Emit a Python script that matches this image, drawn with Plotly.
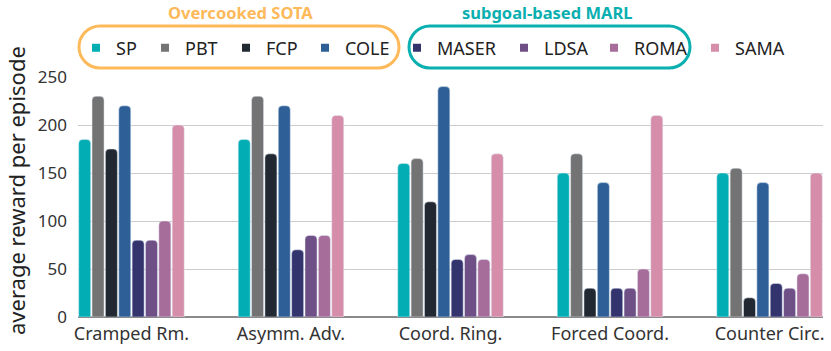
import plotly.graph_objects as go

categories = ['Cramped Rm.', 'Asymm. Adv.', 'Coord. Ring.', 'Forced Coord.', 'Counter Circ.']
methods = ['SP', 'PBT', 'FCP', 'COLE', 'MASER', 'LDSA', 'ROMA', 'SAMA']

sp = [185, 185, 160, 150, 150]
pbt = [230, 230, 165, 170, 155]
fcp = [175, 170, 120, 30, 20]
cole = [220, 220, 240, 140, 140]
maser = [80, 70, 60, 30, 35]
ldsa = [80, 85, 65, 30, 30]
roma = [100, 85, 60, 50, 45]
sama = [200, 210, 170, 210, 150]

values = [sp, pbt, fcp, cole, maser, ldsa, roma, sama]
colors = ['#02aeb4', '#737373', '#222831', '#2e5f97', '#33346d', '#6e4f86', '#a66c9a', '#d58daa']
# left edge (px) of each legend entry
legend_x = [76, 145, 226, 305, 397, 504, 594, 695]

W, H = 831, 351
L, R, T, B = 78, 8, 77, 34
FONT = 'Noto Sans'

fig = go.Figure()
for name, vals, col in zip(methods, values, colors):
    fig.add_trace(go.Bar(name=name, x=categories, y=vals, marker_color=col,
                         marker_cornerradius=4, showlegend=False))

# one small legend per entry so the spacing can follow the original
leg_layout = {}
for i, (name, col, lx) in enumerate(zip(methods, colors, legend_x)):
    key = 'legend' if i == 0 else 'legend%d' % (i + 1)
    fig.add_trace(go.Scatter(name=name, x=[None], y=[None], mode='markers',
                             marker=dict(symbol='square', size=8, color=col), legend=key))
    leg_layout[key] = dict(x=lx / W, y=1 - 48 / H, xref='container', yref='container',
                           yanchor='middle', orientation='h', bgcolor='rgba(0,0,0,0)',
                           font=dict(size=18, color='#222222', family=FONT), itemwidth=30)


def px2paper(x, y):
    pw = W - L - R
    ph = H - T - B
    return (x - L) / pw, (H - B - y) / ph


def pill(x0, x1, y0, y1):
    # rounded capsule, coordinates given in pixels then converted
    r = (y1 - y0) / 2
    k = 0.5523 * r
    pts = [
        ('M', [(x0 + r, y0)]),
        ('L', [(x1 - r, y0)]),
        ('C', [(x1 - r + k, y0), (x1, y0 + r - k), (x1, y0 + r)]),
        ('C', [(x1, y0 + r + k), (x1 - r + k, y1), (x1 - r, y1)]),
        ('L', [(x0 + r, y1)]),
        ('C', [(x0 + r - k, y1), (x0, y0 + r + k), (x0, y0 + r)]),
        ('C', [(x0, y0 + r - k), (x0 + r - k, y0), (x0 + r, y0)]),
    ]
    s = ''
    for cmd, pl in pts:
        s += cmd + ' '.join('%.5f,%.5f' % px2paper(a, b) for a, b in pl) + ' '
    return s + 'Z'


fig.add_shape(type='path', path=pill(79, 399, 26, 68), xref='paper', yref='paper',
              line=dict(color='#fdb95a', width=3))
fig.add_shape(type='path', path=pill(409, 690, 26, 68), xref='paper', yref='paper',
              line=dict(color='#0aafb0', width=3))

ax, ay = px2paper(240, 12)
fig.add_annotation(text='<b>Overcooked SOTA</b>', x=ax, y=ay, xref='paper', yref='paper',
                   xanchor='center', yanchor='middle', showarrow=False,
                   font=dict(size=16.5, color='#fdb95a', family=FONT))
ax, ay = px2paper(547, 12)
fig.add_annotation(text='<b>subgoal-based MARL</b>', x=ax, y=ay, xref='paper', yref='paper',
                   xanchor='center', yanchor='middle', showarrow=False,
                   font=dict(size=16.5, color='#0aafb0', family=FONT))
ax, ay = px2paper(16, 191)
fig.add_annotation(text='average reward per episode', x=ax, y=ay, xref='paper', yref='paper',
                   xanchor='center', yanchor='middle', textangle=-90, showarrow=False,
                   font=dict(size=22, color='#222222', family=FONT))

fig.update_layout(
    width=W, height=H,
    margin=dict(l=L, r=R, t=T, b=B, autoexpand=False),
    barmode='group', bargap=0.33, bargroupgap=0.1,
    plot_bgcolor='white', paper_bgcolor='white',
    font=dict(family=FONT, size=17, color='#333333'),
    showlegend=True,
    **leg_layout
)
fig.update_xaxes(range=[-0.335, 4.335], showgrid=False, showline=False, ticks='',
                 tickfont=dict(size=18, color='#333333'), ticklabelstandoff=4, automargin=False)
fig.update_yaxes(range=[0, 250], dtick=50, showgrid=True, gridcolor='#cccccc', gridwidth=1,
                 zeroline=True, zerolinecolor='#8a8a8a', zerolinewidth=1.5, automargin=False,
                 ticklabelstandoff=10, tickfont=dict(size=17, color='#333333'))

# the page keeps a default 8px body margin, drop it so the figure sits at the corner
fig.write_html('out.html', config={'displayModeBar': False},
               post_script="document.body.style.margin='0';")
